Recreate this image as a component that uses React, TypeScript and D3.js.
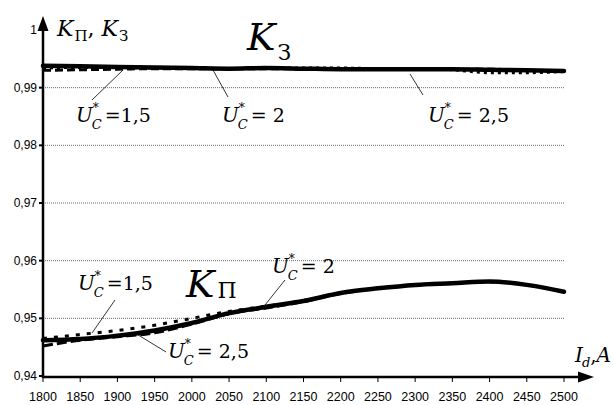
import React from "react";
import * as d3 from "d3";

const xTicks = [1800, 1850, 1900, 1950, 2000, 2050, 2100, 2150, 2200, 2250, 2300, 2350, 2400, 2450, 2500];
const yTicks = [0.94, 0.95, 0.96, 0.97, 0.98, 0.99, 1];
const yTickLabels = ["0,94", "0,95", "0,96", "0,97", "0,98", "0,99", "1"];
const gridValues = [0.95, 0.96, 0.97, 0.98, 0.99];

const k3Solid = [0.9938, 0.9937, 0.9936, 0.9935, 0.9934, 0.9933, 0.9934, 0.9933, 0.9932, 0.9932, 0.9932, 0.9932, 0.9931, 0.993, 0.9929];
const k3Dashed = [0.993, 0.9931, 0.9932, 0.9933, 0.9933, 0.9933, 0.9933, 0.9933, 0.9932, 0.9932, 0.9932, 0.9932, 0.9932, 0.993, 0.9929];
const k3Dotted = [0.9934, 0.9935, 0.9935, 0.9934, 0.9934, 0.9933, 0.9934, 0.9934, 0.9934, 0.9933, 0.9933, 0.9931, 0.9926, 0.9926, 0.9928];

const kpSolid = [0.9462, 0.9464, 0.947, 0.9479, 0.9492, 0.9509, 0.952, 0.953, 0.9544, 0.9552, 0.9558, 0.9561, 0.9564, 0.9558, 0.9546];
const kpDotted = [0.9465, 0.9472, 0.9479, 0.9488, 0.95, 0.9512, 0.9521, 0.9531, 0.9544, 0.9552, 0.9558, 0.9561, 0.9563, 0.9558, 0.9546];
const kpDashed = [0.9452, 0.9462, 0.9468, 0.9475, 0.949, 0.9508, 0.9518, 0.9529, 0.9543, 0.9552, 0.9558, 0.9561, 0.9564, 0.9558, 0.9546];

const W = 613;
const H = 405;

const serif = "'DejaVu Serif', serif";
const sans = "'Liberation Sans', Arial, sans-serif";

export default function App() {
  const x = d3.scaleLinear().domain([1800, 2500]).range([43, 564]);
  const y = d3.scaleLinear().domain([0.94, 1]).range([376, 30]);
  const line = (vals: number[]) =>
    d3
      .line<number>()
      .x((_, i) => x(xTicks[i]))
      .y((d) => y(d))
      .curve(d3.curveMonotoneX)(vals) || "";

  const ULabel = ({ px, py, val }: { px: number; py: number; val: string }) => (
    <text x={px} y={py} style={{ fontFamily: serif, fontSize: 20 }} fill="#000">
      <tspan style={{ fontStyle: "italic" }}>U</tspan>
      <tspan style={{ fontSize: 12 }} dx={0} dy={-10}>*</tspan>
      <tspan style={{ fontStyle: "italic", fontSize: 13 }} dx={-7} dy={17}>C</tspan>
      <tspan style={{ fontSize: 19 }} dx={3} dy={-7}>{val}</tspan>
    </text>
  );

  return (
    <svg width={W} height={H} style={{ position: "absolute", left: 0, top: 0, background: "#fff" }}>
      <rect x={0} y={0} width={W} height={H} fill="#fff" />
      {gridValues.map((v) => (
        <line key={v} x1={x(1800)} x2={x(2500)} y1={y(v)} y2={y(v)} stroke="#444" strokeWidth={0.8} strokeDasharray="1,1" />
      ))}
      <path d={line(k3Dashed)} fill="none" stroke="#000" strokeWidth={3} strokeDasharray="8,4" />
      <path d={line(k3Dotted)} fill="none" stroke="#000" strokeWidth={3} strokeDasharray="3,4" />
      <path d={line(k3Solid)} fill="none" stroke="#000" strokeWidth={4.5} strokeLinecap="round" />
      <path d={line(kpDashed)} fill="none" stroke="#000" strokeWidth={3} strokeDasharray="10,4" />
      <path d={line(kpDotted)} fill="none" stroke="#000" strokeWidth={3} strokeDasharray="4,7" />
      <path d={line(kpSolid)} fill="none" stroke="#000" strokeWidth={4.5} strokeLinecap="round" />

      <line x1={43} x2={43} y1={378} y2={28} stroke="#000" strokeWidth={2.5} />
      <path d="M43,16 L37.5,31 L48.5,31 Z" fill="#000" />
      <line x1={42} x2={580} y1={377} y2={377} stroke="#000" strokeWidth={2.5} />
      <path d="M594,377 L578,371.5 L578,382.5 Z" fill="#000" />
      {yTicks.map((v, i) => (
        <g key={v}>
          <line x1={39} x2={43} y1={y(v)} y2={y(v)} stroke="#000" strokeWidth={2} />
          <text x={37} y={y(v) + 4} textAnchor="end" style={{ fontFamily: sans, fontSize: 12 }} fill="#000">
            {yTickLabels[i]}
          </text>
        </g>
      ))}
      {xTicks.map((v) => (
        <g key={v}>
          <line x1={x(v)} x2={x(v)} y1={377} y2={382} stroke="#000" strokeWidth={1} />
          <text x={x(v)} y={401} textAnchor="middle" style={{ fontFamily: sans, fontSize: 12.5 }} fill="#000">
            {v}
          </text>
        </g>
      ))}

      <text x={57} y={36} style={{ fontFamily: serif, fontSize: 22 }} fill="#000">
        <tspan style={{ fontStyle: "italic" }}>K</tspan>
        <tspan style={{ fontSize: 15 }} dx={1} dy={5}>П</tspan>
        <tspan dy={-5}>, </tspan>
        <tspan style={{ fontStyle: "italic" }}>K</tspan>
        <tspan style={{ fontSize: 15 }} dx={1} dy={5}>З</tspan>
      </text>
      <text x={575} y={362} style={{ fontFamily: serif, fontSize: 20 }} fill="#000">
        <tspan style={{ fontStyle: "italic" }}>I</tspan>
        <tspan style={{ fontStyle: "italic", fontSize: 13 }} dx={-1} dy={5}>d</tspan>
        <tspan dy={-5}>,</tspan>
        <tspan style={{ fontStyle: "italic" }}>A</tspan>
      </text>

      <text x={247} y={50} style={{ fontFamily: serif, fontSize: 38 }} fill="#000">
        <tspan style={{ fontStyle: "italic" }}>K</tspan>
        <tspan style={{ fontSize: 22 }} dx={2} dy={10}>З</tspan>
      </text>
      <text x={186} y={297} style={{ fontFamily: serif, fontSize: 38 }} fill="#000">
        <tspan style={{ fontStyle: "italic" }}>K</tspan>
        <tspan style={{ fontSize: 22 }} dx={3} dy={1}>П</tspan>
      </text>

      <line x1={92} y1={100} x2={123} y2={70} stroke="#000" strokeWidth={0.8} />
      <line x1={213} y1={70} x2={228} y2={97} stroke="#000" strokeWidth={0.8} />
      <line x1={410} y1={74} x2={423} y2={95} stroke="#000" strokeWidth={0.8} />
      <line x1={115} y1={300} x2={92} y2={333} stroke="#000" strokeWidth={0.8} />
      <line x1={285} y1={280} x2={265} y2={305} stroke="#000" strokeWidth={0.8} />
      <line x1={135} y1={333} x2={166} y2={352} stroke="#000" strokeWidth={0.8} />

      <ULabel px={76} py={122} val="=1,5" />
      <ULabel px={222} py={122} val="= 2" />
      <ULabel px={428} py={122} val="= 2,5" />
      <ULabel px={78} py={290} val="=1,5" />
      <ULabel px={272} py={273} val="= 2" />
      <ULabel px={168} py={358} val="= 2,5" />
    </svg>
  );
}
